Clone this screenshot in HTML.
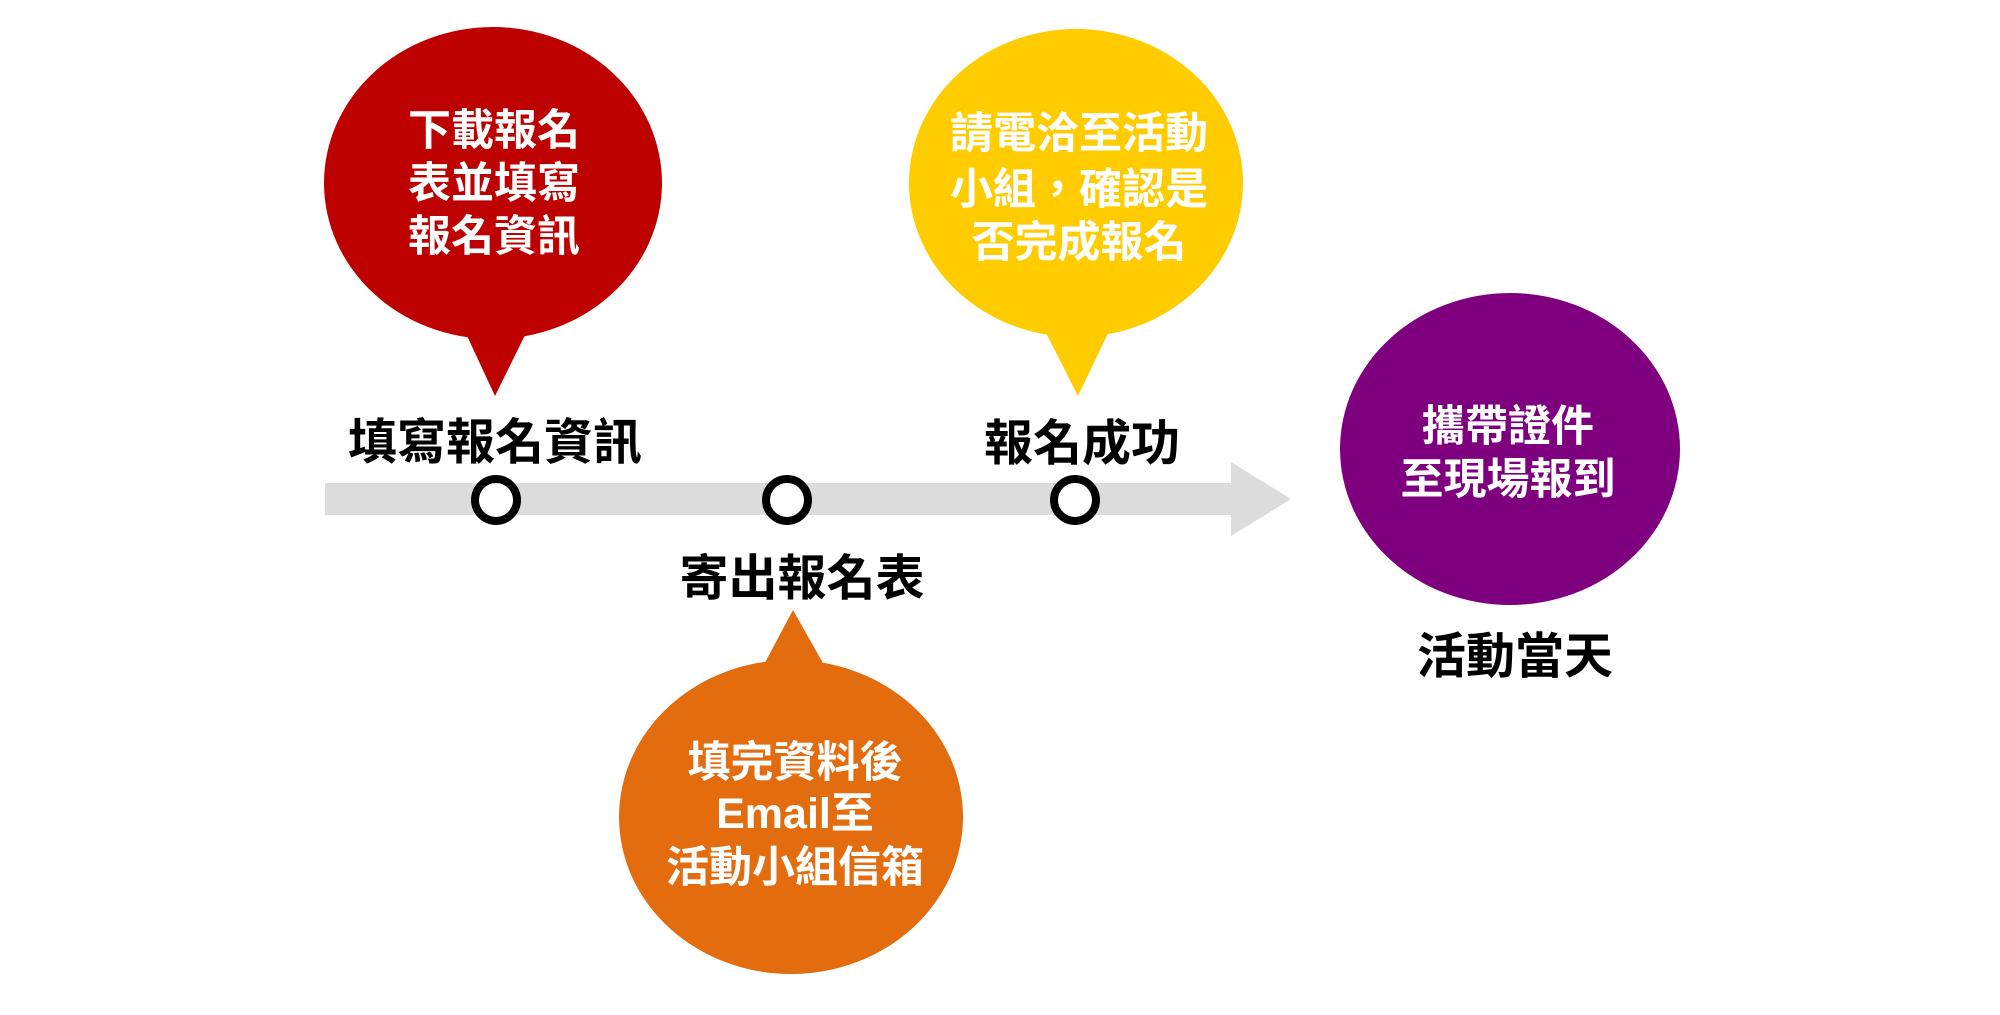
<!DOCTYPE html>
<html><head><meta charset="utf-8"><style>
html,body{margin:0;padding:0;background:#fff;width:2000px;height:1015px;overflow:hidden}
svg text{font-family:"Liberation Sans","Noto Sans CJK TC",sans-serif;font-weight:bold;text-anchor:middle}
</style></head><body>
<svg width="2000" height="1015" viewBox="0 0 2000 1015" xmlns="http://www.w3.org/2000/svg">
<rect x="325" y="483" width="908" height="32" fill="#dcdcdc"/>
<polygon points="1231,462 1291,499 1231,536" fill="#dcdcdc"/>
<g fill="#fff" stroke="#000" stroke-width="8">
<circle cx="496" cy="500" r="21"/>
<circle cx="787" cy="500" r="21"/>
<circle cx="1075" cy="500" r="21"/>
</g>
<ellipse cx="493" cy="183" rx="169" ry="156" fill="#bd0000"/>
<polygon points="462,325 530,325 495,396" fill="#bd0000"/>
<ellipse cx="1076" cy="183" rx="167" ry="154" fill="#ffcc00"/>
<polygon points="1042,325 1112,325 1078,396" fill="#ffcc00"/>
<ellipse cx="791" cy="817" rx="172" ry="157" fill="#e26c0e"/>
<polygon points="760,672 828,672 793,610" fill="#e26c0e"/>
<ellipse cx="1510" cy="449" rx="170" ry="156" fill="#7f007f"/>
<g fill="#fff" font-size="43">
<text x="494" y="145">下載報名</text>
<text x="494" y="198">表並填寫</text>
<text x="494" y="251">報名資訊</text>
<text x="1079" y="148">請電洽至活動</text>
<text x="1079" y="204">小組，確認是</text>
<text x="1079" y="257">否完成報名</text>
<text x="795" y="777">填完資料後</text>
<text x="795" y="828">Email至</text>
<text x="795" y="882">活動小組信箱</text>
<text x="1508" y="441">攜帶證件</text>
<text x="1508" y="494">至現場報到</text>
</g>
<g fill="#000" font-size="49">
<text x="495" y="459">填寫報名資訊</text>
<text x="802" y="595">寄出報名表</text>
<text x="1082" y="460">報名成功</text>
<text x="1515" y="673">活動當天</text>
</g>
</svg>
</body></html>
